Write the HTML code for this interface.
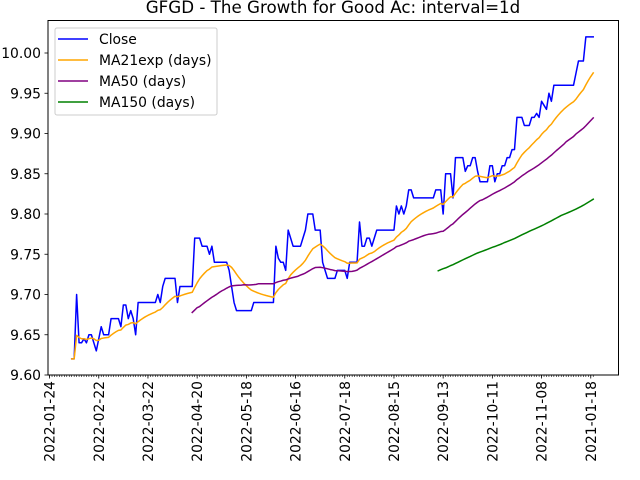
<!DOCTYPE html>
<html><head><meta charset="utf-8"><style>
html,body{margin:0;padding:0;background:#fff;}
svg{display:block;font-family:"DejaVu Sans","Liberation Sans",sans-serif;}
</style></head><body>
<svg id="chart" width="640" height="480" viewBox="0 0 640 480" xmlns="http://www.w3.org/2000/svg">
<rect x="0" y="0" width="640" height="480" fill="#fff"/>
<text x="333" y="13" font-size="16.7" text-anchor="middle" fill="#000">GFGD - The Growth for Good Ac: interval=1d</text>
<g id="ticks"></g>
<g id="series"></g>
<rect x="48" y="20.5" width="570.5" height="354.5" fill="none" stroke="#000" stroke-width="1"/>
<g>
<rect x="55" y="28" width="162" height="87" rx="2" fill="#fff" fill-opacity="0.8" stroke="#ccc" stroke-width="1"/>
<g><line x1="58" y1="39" x2="88" y2="39" stroke="#0000ff" stroke-width="1.5"/><text x="99" y="44" font-size="13.9">Close</text></g>
<g><line x1="58" y1="60" x2="88" y2="60" stroke="#ffa500" stroke-width="1.5"/><text x="99" y="65" font-size="13.9">MA21exp (days)</text></g>
<g><line x1="58" y1="81" x2="88" y2="81" stroke="#800080" stroke-width="1.5"/><text x="99" y="86" font-size="13.9">MA50 (days)</text></g>
<g><line x1="58" y1="102" x2="88" y2="102" stroke="#008000" stroke-width="1.5"/><text x="99" y="107" font-size="13.9">MA150 (days)</text></g>
</g>
</svg>
<script>
const xTickLabels = ["2022-01-24","2022-02-22","2022-03-22","2022-04-20","2022-05-18","2022-06-16","2022-07-18","2022-08-15","2022-09-13","2022-10-11","2022-11-08","2021-01-18"];
const yTickValues = [9.60,9.65,9.70,9.75,9.80,9.85,9.90,9.95,10.00];
const closeValues = [
9.62,9.62,9.70,9.64,9.64,9.645,9.64,9.65,9.65,9.64,
9.63,9.645,9.66,9.65,9.65,9.65,9.67,9.67,9.67,9.67,
9.66,9.687,9.687,9.67,9.68,9.67,9.65,9.69,9.69,9.69,
9.69,9.69,9.69,9.69,9.69,9.70,9.69,9.71,9.72,9.72,
9.72,9.72,9.72,9.69,9.71,9.71,9.71,9.71,9.71,9.71,
9.77,9.77,9.77,9.76,9.76,9.76,9.75,9.76,9.74,9.74,
9.74,9.74,9.74,9.74,9.73,9.71,9.69,9.68,9.68,9.68,
9.68,9.68,9.68,9.68,9.69,9.69,9.69,9.69,9.69,9.69,
9.69,9.69,9.69,9.76,9.745,9.74,9.74,9.73,9.78,9.77,
9.76,9.76,9.76,9.76,9.77,9.78,9.80,9.80,9.80,9.78,
9.78,9.78,9.74,9.73,9.72,9.72,9.72,9.72,9.73,9.73,
9.73,9.73,9.72,9.74,9.74,9.74,9.74,9.79,9.76,9.76,
9.77,9.77,9.76,9.77,9.78,9.78,9.78,9.78,9.78,9.78,
9.78,9.78,9.81,9.80,9.81,9.80,9.81,9.83,9.83,9.82,
9.82,9.82,9.82,9.82,9.82,9.82,9.82,9.82,9.83,9.83,
9.83,9.80,9.85,9.85,9.85,9.82,9.87,9.87,9.87,9.87,
9.853,9.86,9.86,9.87,9.87,9.853,9.84,9.84,9.84,9.84,
9.86,9.86,9.84,9.85,9.85,9.86,9.86,9.87,9.87,9.88,
9.88,9.92,9.92,9.92,9.91,9.91,9.91,9.92,9.92,9.925,
9.92,9.94,9.935,9.93,9.95,9.94,9.96,9.96,9.96,9.96,
9.96,9.96,9.96,9.96,9.96,9.975,9.99,9.99,9.99,10.02,
10.02,10.02,10.02];
const emaSpan = 21, ma50Window = 50, ma150Window = 150;

const NS = "http://www.w3.org/2000/svg";
const yMin = 9.60, yMax = 10.00, yPixMin = 375, yPixMax = 53;
function yScale(v){ return yPixMin - (v - yMin) / (yMax - yMin) * (yPixMin - yPixMax); }
const x0 = 71.7, dx = 2.46;
function xScale(i){ return x0 + i * dx; }
const firstTickIndex = -9, tickStep = 20;

function ema(vals, span){
  const a = 2/(span+1); let num=0, den=0; const out=[];
  for (let i=0;i<vals.length;i++){ num = vals[i] + (1-a)*num; den = 1 + (1-a)*den; out.push(num/den); }
  return out;
}
function sma(vals, w){
  const out=[]; let s=0;
  for (let i=0;i<vals.length;i++){ s+=vals[i]; if(i>=w) s-=vals[i-w]; out.push(i>=w-1 ? s/w : null); }
  return out;
}
const ticks = document.getElementById('ticks');
const series = document.getElementById('series');
function mk(tag, attrs, parent){ const e=document.createElementNS(NS,tag); for(const k in attrs) e.setAttribute(k, attrs[k]); parent.appendChild(e); return e; }

// minor x ticks
for (let i = firstTickIndex; i < closeValues.length; i++){
  const x = xScale(i);
  if (x < 48 || x > 618) continue;
  const t = mk('line',{x1:x,y1:375,x2:x,y2:377,stroke:'#000','stroke-width':0.6},ticks);
  
  
}
// major x ticks
xTickLabels.forEach((lab,k)=>{
  const x = xScale(firstTickIndex + k*tickStep);
  const t = mk('line',{x1:x,y1:375,x2:x,y2:378.5,stroke:'#000','stroke-width':0.8},ticks);
  
  
  const tx = mk('text',{x:0,y:0,'font-size':13.9,'text-anchor':'end',transform:`translate(${x+5},381) rotate(-90)`},ticks);
  
  
  tx.textContent = lab;
});
// y ticks
yTickValues.forEach(v=>{
  const y = yScale(v);
  const t = mk('line',{x1:44.5,y1:y,x2:48,y2:y,stroke:'#000','stroke-width':0.8},ticks);
  
  
  const tx = mk('text',{x:41,y:y+5,'font-size':13.9,'text-anchor':'end'},ticks);
  
  
  tx.textContent = v.toFixed(2);
});
function drawLine(vals, color, name){
  let d=''; let started=false;
  vals.forEach((v,i)=>{ if(v===null) return; d += (started?'L':'M') + xScale(i).toFixed(2) + ' ' + yScale(v).toFixed(2) + ' '; started=true; });
  const p = mk('path',{d:d,fill:'none',stroke:color,'stroke-width':1.5,'stroke-linejoin':'round','stroke-linecap':'square'},series);
  
  
}
drawLine(closeValues,'#0000ff','close-line');
drawLine(ema(closeValues,emaSpan),'#ffa500','ma21exp-line');
drawLine(sma(closeValues,ma50Window),'#800080','ma50-line');
drawLine(sma(closeValues,ma150Window),'#008000','ma150-line');
</script>
</body></html>
